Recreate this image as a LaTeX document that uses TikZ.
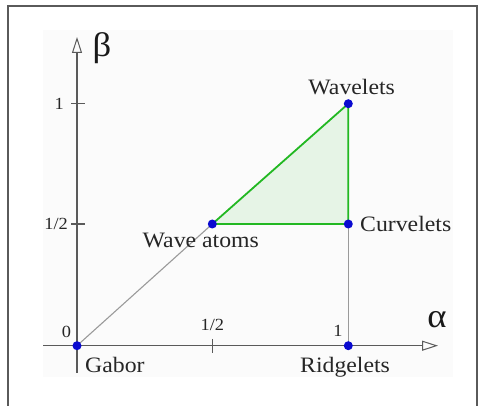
\documentclass[tikz,border=0pt]{standalone}
\usepackage{fontspec}
\setmainfont{Liberation Serif}[FakeStretch=1.08]
\usetikzlibrary{arrows.meta}
\definecolor{axisgray}{HTML}{5A5A5A}
\definecolor{diaggray}{HTML}{9A9A9A}
\definecolor{triggreen}{HTML}{22B822}
\definecolor{trifill}{HTML}{E6F4E6}
\definecolor{dotblue}{HTML}{0A0AD0}
\definecolor{bgfaint}{HTML}{FBFBFB}
\tikzset{
  axisline/.style={draw=axisgray, line width=1.4pt, -{Triangle[open,length=16pt,width=10pt,line width=1pt]}},
  tickline/.style={draw=axisgray, line width=1.1pt},
  dotpt/.style={circle, fill=dotblue, inner sep=0pt, minimum size=9pt},
  lbl/.style={font=\fontsize{22}{24}\selectfont, inner sep=0pt, text=black!85},
  ticklbl/.style={font=\fontsize{17}{19}\selectfont, inner sep=0pt, text=black!85},
  greek/.style={font=\fontsize{34}{36}\selectfont, inner sep=0pt, text=black!90},
  greenline/.style={draw=triggreen, line width=1.8pt, line join=round},
  grayline/.style={draw=diaggray, line width=1.1pt},
}
\begin{document}
\begin{tikzpicture}[x=1pt,y=-1pt]
\useasboundingbox (0,0) rectangle (480,406);
\fill[white] (0,0) rectangle (480,406);
\fill[bgfaint] (43,30) rectangle (453,377);
% frame
\draw[axisgray, line width=2pt] (8,406) -- (8,6) -- (477,6) -- (477,406);

% points
\coordinate (O) at (77,345.7);
\coordinate (R) at (348.3,345.7);
\coordinate (WA) at (212.3,224);
\coordinate (C) at (348.3,224);
\coordinate (W) at (348.3,103.7);
\coordinate (ybot) at (77,373);
\coordinate (ytop) at (77,37);
\coordinate (xleft) at (43,345.7);
\coordinate (xright) at (438,345.7);

% triangle fill
\fill[trifill] (WA) -- (W) -- (C) -- cycle;

% gray lines
\draw[grayline] (O) -- (WA);
\draw[grayline] (R) -- (C);

% axes
\draw[axisline] (ybot) -- (ytop);
\draw[axisline] (xleft) -- (xright);

% ticks
\coordinate (ty1a) at (71,103.7); \coordinate (ty1b) at (85,103.7);
\coordinate (ty2a) at (71,224); \coordinate (ty2b) at (85,224);
\coordinate (tx1a) at (212.3,339); \coordinate (tx1b) at (212.3,353);
\draw[tickline] (ty1a) -- (ty1b);
\draw[tickline] (ty2a) -- (ty2b);
\draw[tickline] (tx1a) -- (tx1b);

% green triangle
\draw[greenline] (WA) -- (W) -- (C) -- cycle;

% dots
\node[dotpt] (nO) at (O) {};
\node[dotpt] (nR) at (R) {};
\node[dotpt] (nWA) at (WA) {};
\node[dotpt] (nC) at (C) {};
\node[dotpt] (nW) at (W) {};

% labels
\node[lbl, anchor=base] (lW) at (351.7,94.5) {Wavelets};
\node[lbl, anchor=base west] (lC) at (360,231.5) {Curvelets};
\node[lbl, anchor=base west] (lWA) at (142.5,248) {Wave atoms};
\node[lbl, anchor=base west] (lG) at (85,373) {Gabor};
\node[lbl, anchor=base west] (lR) at (300,373) {Ridgelets};

\node[ticklbl, anchor=base] (t0) at (66.5,338) {0};
\node[ticklbl, anchor=base] (tx12) at (212.3,331) {1/2};
\node[ticklbl, anchor=base] (tx1) at (338,337) {1};
\node[ticklbl, anchor=base east] (ty1) at (64,110) {1};
\node[ticklbl, anchor=base east] (ty12) at (68,230) {1/2};

\node[greek, anchor=base] (beta) at (102,57) {β};
\node[greek, anchor=base] (alpha) at (437,328) {α};
\end{tikzpicture}
\end{document}
